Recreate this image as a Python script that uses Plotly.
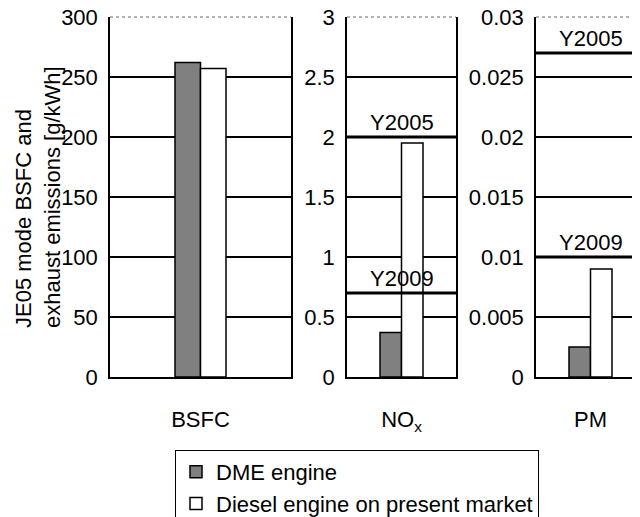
import plotly.graph_objects as go

categories = ["BSFC", "NO<sub>x</sub>", "PM"]
dme_values = [262, 0.37, 0.0025]
diesel_values = [257, 1.95, 0.009]
y_max = [300, 3, 0.03]
y_dtick = [50, 0.5, 0.005]
limit_panels = [1, 1, 2, 2]
limit_labels = ["Y2005", "Y2009", "Y2005", "Y2009"]
limit_values = [2.0, 0.7, 0.027, 0.01]

FONT = "Liberation Sans, Arial, sans-serif"
FS = 22
OFF = 8  # page body margin of the browser
W, H = 640, 517
# desired page-pixel geometry
PLOT_L, PLOT_T, PLOT_B = 110, 17, 377
ML = PLOT_L - OFF
MT = PLOT_T - OFF
MB = H - (PLOT_B - OFF)
MR = 0
PW = W - ML - MR
PH = H - MT - MB
# panel pixel extents (left, right) in page px
panels_px = [(110, 291), (347, 456), (536, 645)]
bar_px = [25.5, 21.5, 21.5]
VIS_RIGHT = W  # visible right edge on the page


def px_to_paper_x(px):
    return (px - PLOT_L) / PW


def px_to_paper_y(py):
    return (PLOT_B - py) / PH


fig = go.Figure()
for i, cat in enumerate(categories):
    ax = "" if i == 0 else str(i + 1)
    left, right = panels_px[i]
    width_px = right - left
    w = bar_px[i] / width_px
    fig.add_trace(go.Bar(
        x=[cat], y=[dme_values[i]], name="DME engine",
        xaxis="x" + ax, yaxis="y" + ax,
        offset=-w, width=w,
        marker=dict(color="#808080", line=dict(color="black", width=1.5)),
        showlegend=(i == 0),
    ))
    fig.add_trace(go.Bar(
        x=[cat], y=[diesel_values[i]], name="Diesel engine on present market",
        xaxis="x" + ax, yaxis="y" + ax,
        offset=0, width=w,
        marker=dict(color="white", line=dict(color="black", width=1.5)),
        showlegend=(i == 0),
    ))
    vis_right = min(right, VIS_RIGHT)
    d0 = px_to_paper_x(left)
    d1 = px_to_paper_x(vis_right)
    r1 = -0.5 + (vis_right - left) / width_px
    fig.update_layout(**{
        "xaxis" + ax: dict(
            domain=[d0, d1], anchor="y" + ax, type="category",
            range=[-0.5, r1], showline=True, linecolor="black", linewidth=1.5,
            ticks="outside", ticklen=22, tickcolor="rgba(0,0,0,0)",
            tickfont=dict(family=FONT, size=FS, color="black"),
            showgrid=False, fixedrange=True, automargin=False,
        ),
        "yaxis" + ax: dict(
            anchor="x" + ax, range=[0, y_max[i]], dtick=y_dtick[i],
            showline=True, linecolor="black", linewidth=1.5,
            mirror=(i < 2),
            showgrid=True, gridcolor="black", gridwidth=1.5,
            zeroline=False, automargin=False, ticklabeloverflow="allow",
            ticks="outside", ticklen=6, tickcolor="rgba(0,0,0,0)",
            tickfont=dict(family=FONT, size=FS, color="black"),
        ),
    })
    # thin dotted top border
    fig.add_shape(type="line", xref="x" + ax + " domain", yref="y" + ax + " domain",
                  x0=0, x1=1, y0=1, y1=1,
                  line=dict(color="#666666", width=1, dash="dot"), layer="above")

for p, lab, val in zip(limit_panels, limit_labels, limit_values):
    ax = str(p + 1)
    fig.add_shape(type="line", xref="x" + ax + " domain", yref="y" + ax,
                  x0=0, x1=1, y0=val, y1=val,
                  line=dict(color="black", width=3), layer="above")
    fig.add_annotation(x=categories[p], y=val, xref="x" + ax, yref="y" + ax,
                       text=lab, showarrow=False, yanchor="bottom", yshift=0,
                       font=dict(family=FONT, size=FS, color="black"))

fig.add_annotation(
    text="JE05 mode BSFC and<br>exhaust emissions [g/kWh]",
    xref="paper", yref="paper",
    x=px_to_paper_x(38), y=px_to_paper_y(197),
    xanchor="center", yanchor="middle", textangle=-90, align="left",
    showarrow=False, font=dict(family=FONT, size=FS, color="black"),
)

fig.update_layout(
    width=W, height=H,
    margin=dict(l=ML, r=MR, t=MT, b=MB, autoexpand=False),
    paper_bgcolor="white", plot_bgcolor="white",
    barmode="overlay",
    font=dict(family=FONT, size=FS, color="black"),
    legend=dict(
        x=px_to_paper_x(175), y=px_to_paper_y(450), xanchor="left", yanchor="top",
        bordercolor="black", borderwidth=1, bgcolor="white",
        font=dict(family=FONT, size=FS, color="black"),
        traceorder="normal",
    ),
)

fig.write_html("out.html")
